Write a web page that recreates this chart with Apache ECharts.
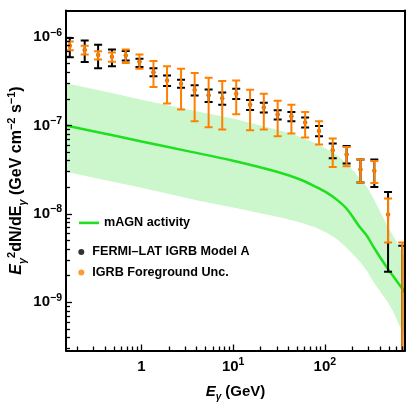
<!DOCTYPE html>
<html>
<head>
<meta charset="utf-8">
<title>IGRB vs mAGN activity</title>
<script src="https://cdn.jsdelivr.net/npm/echarts@6.0.0/dist/echarts.min.js"></script>
<style>
  html, body { margin: 0; padding: 0; background: #fff; }
  #chart { width: 407px; height: 406px; }
</style>
</head>
<body>
<div id="chart"></div>
<script>
// Fermi-LAT IGRB energy bins (GeV) and E^2 dN/dE (GeV cm^-2 s^-1)
const igrbE = [0.165, 0.24, 0.336, 0.476, 0.673, 0.95, 1.35, 1.9, 2.7, 3.8, 5.4, 7.6, 10.8,
               15.3, 21.6, 30.6, 43.2, 61, 86.5, 122, 173, 245, 347, 490, 700];
const igrbFlux = [8.0e-7, 7.15e-7, 6.27e-7, 5.98e-7, 6.2e-7, 5.25e-7, 4.0e-7, 3.23e-7, 2.97e-7, 2.52e-7,
                  2.2e-7, 2.04e-7, 2.29e-7, 1.72e-7, 1.6e-7, 1.33e-7, 1.27e-7, 1.08e-7, 8.67e-8, 5.25e-8,
                  4.7e-8, 3.18e-8, 3.07e-8, 9.84e-9, null];
// Model A error (black)
const modelALo = [5.9e-7, 5.22e-7, 4.43e-7, 4.67e-7, 5.45e-7, 4.58e-7, 3.6e-7, 2.79e-7, 2.68e-7, 2.19e-7,
                  1.84e-7, 1.72e-7, 1.99e-7, 1.5e-7, 1.4e-7, 1.17e-7, 1.12e-7, 9.47e-8, 7.55e-8, 4.26e-8,
                  3.71e-8, 2.26e-8, 2.02e-8, 2.21e-9, 1e-10];
const modelAHi = [9.8e-7, 9.18e-7, 8.2e-7, 7.26e-7, 6.95e-7, 5.7e-7, 4.43e-7, 3.69e-7, 3.3e-7, 2.85e-7,
                  2.56e-7, 2.37e-7, 2.61e-7, 1.94e-7, 1.81e-7, 1.49e-7, 1.42e-7, 1.23e-7, 9.87e-8, 6.25e-8,
                  5.87e-8, 4.12e-8, 4.12e-8, 1.77e-8, 4.35e-9];
// foreground uncertainty (orange)
const fgLo = [7.08e-7, 6.37e-7, 5.57e-7, 5.27e-7, 5.08e-7, 4.4e-7, 2.72e-7, 1.77e-7, 1.52e-7, 1.12e-7,
              9.54e-8, 8.99e-8, 1.34e-7, 8.83e-8, 8.99e-8, 7.55e-8, 8.1e-8, 7.3e-8, 6.08e-8, 3.4e-8,
              3.46e-8, 2.26e-8, 2.24e-8, 4.75e-9, 1e-10];
const fgHi = [8.94e-7, 7.96e-7, 6.9e-7, 6.71e-7, 7.26e-7, 6.37e-7, 5.36e-7, 4.67e-7, 4.4e-7, 3.92e-7,
              3.48e-7, 3.18e-7, 3.24e-7, 2.54e-7, 2.29e-7, 1.91e-7, 1.72e-7, 1.42e-7, 1.12e-7, 7.11e-8,
              5.71e-8, 4.12e-8, 3.97e-8, 1.49e-8, 4.75e-9];

// mAGN activity curve
const magnE = [0.15, 0.5, 1, 3, 10, 30, 54, 80, 106, 135, 175, 243, 290, 339, 479, 600, 750];
const magnFlux = [1.0e-7, 7.7e-8, 6.6e-8, 5.2e-8, 4.0e-8, 3.0e-8, 2.45e-8, 2.02e-8, 1.73e-8, 1.45e-8,
                  1.13e-8, 7.0e-9, 5.6e-9, 4.25e-9, 2.45e-9, 1.78e-9, 1.3e-9];
// its uncertainty band
const bandE = [0.15, 0.5, 1, 4.35, 10, 35, 54, 80, 106, 135, 175, 243, 290, 339, 479, 560, 643, 750];
const bandLo = [3.0e-8, 2.3e-8, 1.98e-8, 1.4e-8, 1.18e-8, 9.0e-9, 8.0e-9, 7.0e-9, 6.1e-9, 5.2e-9,
                4.1e-9, 2.85e-9, 2.25e-9, 1.7e-9, 1.03e-9, 7.8e-10, 5.6e-10, 4.2e-10];
const bandHi = [3.0e-7, 2.3e-7, 1.95e-7, 1.42e-7, 1.2e-7, 8.6e-8, 7.4e-8, 6.3e-8, 5.4e-8, 4.6e-8,
                3.7e-8, 2.5e-8, 2.0e-8, 1.5e-8, 7.4e-9, 5.6e-9, 4.3e-9, 3.2e-9];

// tick labels, as powers of ten
const xTickExp = [0, 1, 2];
const yTickExp = [-9, -8, -7, -6];

const X_MIN = 0.15, X_MAX = 750;
const Y_MIN = 2.85e-10, Y_MAX = 2e-6;
const FONT = 'Liberation Sans';
const ORANGE = '#ff8000';
const GREEN = '#1ee01e';

// minor ticks at 2..9 x 10^n inside the range
function minorTicks(lo, hi) {
    const out = [];
    for (let e = Math.floor(Math.log10(lo)); e <= Math.ceil(Math.log10(hi)); e++) {
        for (let m = 2; m <= 9; m++) {
            const v = m * Math.pow(10, e);
            if (v > lo && v < hi) out.push(v);
        }
    }
    return out;
}

const tickRich = {
    b: { fontSize: 15, fontWeight: 'bold', fontFamily: FONT, color: '#000', lineHeight: 20 },
    s: { fontSize: 10.5, fontWeight: 'bold', fontFamily: FONT, color: '#000', verticalAlign: 'top', lineHeight: 8 }
};
function nameRich(size, small) {
    return {
        e: { fontSize: size, fontWeight: 'bold', fontStyle: 'italic', fontFamily: FONT, color: '#000', lineHeight: 22 },
        t: { fontSize: size, fontWeight: 'bold', fontFamily: FONT, color: '#000', lineHeight: 22 },
        sub: { fontSize: small, fontWeight: 'bold', fontStyle: 'italic', fontFamily: FONT, color: '#000', verticalAlign: 'bottom', lineHeight: 12 },
        sup: { fontSize: small, fontWeight: 'bold', fontFamily: FONT, color: '#000', verticalAlign: 'top', lineHeight: 12 }
    };
}

function powLabel(exp) {
    if (exp === 0) return '{b|1}';
    return '{b|10}{s|' + String(exp).replace('-', '\u2212') + '}';
}

// vertical error bar with caps
function errorBar(color, capW, lw) {
    return function (params, api) {
        const x = api.value(0);
        const top = api.coord([x, api.value(2)]);
        const bot = api.coord([x, api.value(1)]);
        const h = capW / 2;
        const style = { stroke: color, lineWidth: lw };
        return {
            type: 'group',
            children: [
                { type: 'line', shape: { x1: top[0], y1: top[1], x2: bot[0], y2: bot[1] }, style: style },
                { type: 'line', shape: { x1: top[0] - h, y1: top[1], x2: top[0] + h, y2: top[1] }, style: style },
                { type: 'line', shape: { x1: bot[0] - h, y1: bot[1], x2: bot[0] + h, y2: bot[1] }, style: style }
            ]
        };
    };
}

// whole band as one polygon (upper edge left->right, lower edge back)
function bandPolygon(params, api) {
    if (params.dataIndex !== 0) return null;
    const pts = [];
    for (let i = 0; i < bandE.length; i++) pts.push(api.coord([bandE[i], bandHi[i]]));
    for (let i = bandE.length - 1; i >= 0; i--) pts.push(api.coord([bandE[i], bandLo[i]]));
    return {
        type: 'polygon',
        shape: { points: pts },
        style: { fill: '#ccf7cc', stroke: null }
    };
}

const logX = { type: 'log', logBase: 10, min: X_MIN, max: X_MAX, gridIndex: 0, z: 10 };
const logY = { type: 'log', logBase: 10, min: Y_MIN, max: Y_MAX, gridIndex: 0, z: 10 };
const xMajor = xTickExp.map(e => Math.pow(10, e));
const yMajor = yTickExp.map(e => Math.pow(10, e));

const chart = echarts.init(document.getElementById('chart'), null, { renderer: 'canvas' });

const legendText = { fontFamily: FONT, fontWeight: 'bold', fontSize: 12.6, color: '#000' };

chart.setOption({
    animation: false,
    backgroundColor: '#fff',
    grid: { left: 66, right: 2, top: 10.5, bottom: 55.5, outerBoundsMode: 'none', containLabel: false },
    legend: [
        {
            data: [{ name: 'mAGN activity', icon: 'rect' }], left: 79, top: 216.4, padding: 0,
            itemWidth: 20, itemHeight: 2.6, selectedMode: false,
            textStyle: legendText
        },
        {
            data: [{ name: 'FERMI\u2013LAT IGRB Model A', icon: 'circle' }], left: 78.3, top: 245.4, padding: 0,
            itemWidth: 12, itemHeight: 6, selectedMode: false,
            textStyle: legendText
        },
        {
            data: [{ name: 'IGRB Foreground Unc.', icon: 'circle' }], left: 78.3, top: 266, padding: 0,
            itemWidth: 12, itemHeight: 6, selectedMode: false,
            textStyle: legendText
        }
    ],
    xAxis: [
        Object.assign({}, logX, {
            position: 'bottom',
            name: '{e|E}{sub|\u03b3}{t| (GeV)}',
            nameLocation: 'middle', nameGap: 30, nameMoveOverlap: false,
            nameTextStyle: { rich: nameRich(15, 10) },
            axisLine: { show: true, lineStyle: { color: '#000', width: 2 } },
            axisTick: { show: true, inside: true, length: 6, customValues: xMajor, lineStyle: { color: '#000', width: 1.3 } },
            axisLabel: {
                show: true, margin: 6, customValues: xMajor,
                formatter: v => powLabel(Math.round(Math.log10(v))),
                rich: tickRich
            },
            splitLine: { show: false }
        }),
        Object.assign({}, logX, {
            position: 'bottom',
            axisLine: { show: false },
            axisTick: { show: true, inside: true, length: 4, customValues: minorTicks(X_MIN, X_MAX), lineStyle: { color: '#000', width: 1.3 } },
            axisLabel: { show: false },
            splitLine: { show: false }
        }),
        {
            type: 'value', position: 'top', min: 0, max: 1, z: 10,
            axisLine: { show: true, onZero: false, lineStyle: { color: '#000', width: 2 } },
            axisTick: { show: false }, axisLabel: { show: false }, splitLine: { show: false }
        }
    ],
    yAxis: [
        Object.assign({}, logY, {
            position: 'left',
            name: '{e|E}{sub|\u03b3}{sup|2}{t|dN/dE}{sub|\u03b3}{t| (GeV cm}{sup|\u22122}{t| s}{sup|\u22121}{t|)}',
            nameLocation: 'middle', nameRotate: 90, nameGap: 38, nameMoveOverlap: false,
            nameTextStyle: { rich: nameRich(16, 11) },
            axisLine: { show: true, lineStyle: { color: '#000', width: 2 } },
            axisTick: { show: true, inside: true, length: 6, customValues: yMajor, lineStyle: { color: '#000', width: 1.3 } },
            axisLabel: {
                show: true, margin: 4, customValues: yMajor,
                formatter: v => powLabel(Math.round(Math.log10(v))),
                rich: tickRich
            },
            splitLine: { show: false }
        }),
        Object.assign({}, logY, {
            position: 'left',
            axisLine: { show: false },
            axisTick: { show: true, inside: true, length: 4, customValues: minorTicks(Y_MIN, Y_MAX), lineStyle: { color: '#000', width: 1.3 } },
            axisLabel: { show: false },
            splitLine: { show: false }
        }),
        {
            type: 'value', position: 'right', min: 0, max: 1, z: 10,
            axisLine: { show: true, onZero: false, lineStyle: { color: '#000', width: 2 } },
            axisTick: { show: false }, axisLabel: { show: false }, splitLine: { show: false }
        }
    ],
    series: [
        {
            name: 'band', type: 'custom', clip: true, z: 1, silent: true,
            renderItem: bandPolygon,
            encode: { x: 0, y: [1, 2] },
            data: bandE.map((e, i) => [e, bandLo[i], bandHi[i]])
        },
        {
            name: 'mAGN activity', type: 'line', smooth: 0.3, symbol: 'none', z: 2,
            lineStyle: { color: GREEN, width: 2.5 },
            itemStyle: { color: GREEN },
            data: magnE.map((e, i) => [e, magnFlux[i]])
        },
        {
            name: 'modelA-err', type: 'custom', clip: true, z: 3, silent: true,
            renderItem: errorBar('#000', 8, 2),
            encode: { x: 0, y: [1, 2] },
            data: igrbE.map((e, i) => [e, modelALo[i], modelAHi[i]])
        },
        {
            name: 'FERMI\u2013LAT IGRB Model A', type: 'scatter', symbol: 'circle', symbolSize: 4, z: 3, clip: true,
            itemStyle: { color: '#000' },
            data: igrbE.map((e, i) => [e, igrbFlux[i]])
        },
        {
            name: 'fg-err', type: 'custom', clip: true, z: 4, silent: true,
            renderItem: errorBar(ORANGE, 8, 2),
            encode: { x: 0, y: [1, 2] },
            data: igrbE.map((e, i) => [e, fgLo[i], fgHi[i]])
        },
        {
            name: 'IGRB Foreground Unc.', type: 'scatter', symbol: 'circle', symbolSize: 4.5, z: 5, clip: true,
            itemStyle: { color: ORANGE },
            data: igrbE.map((e, i) => [e, igrbFlux[i]])
        }
    ]
});
</script>
</body>
</html>
